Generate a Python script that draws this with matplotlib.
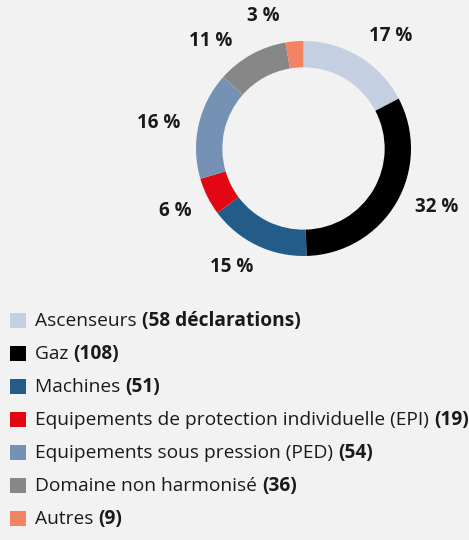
import numpy as np
import matplotlib.pyplot as plt
from matplotlib.patches import Rectangle

plt.rcParams['font.family'] = ['Open Sans', 'DejaVu Sans']

# data
categories = ['Ascenseurs', 'Gaz', 'Machines',
              'Equipements de protection individuelle (EPI)',
              'Equipements sous pression (PED)', 'Domaine non harmonisé', 'Autres']
counts = [58, 108, 51, 19, 54, 36, 9]
count_labels = ['(58 déclarations)', '(108)', '(51)', '(19)', '(54)', '(36)', '(9)']
colors = ['#c5cfe2', '#000000', '#235c89', '#e30613', '#7592b5', '#878787', '#f28364']

# small manual nudges of the percent labels (pixels, right / up)
label_nudge = [(13, -10), (10, 14), (-10, 10), (0, 2), (-5, -6), (-23, -18), (-28, -10)]

bg = '#f2f2f2'
W, H = 469, 540
fig = plt.figure(figsize=(W / 100, H / 100), dpi=100, facecolor=bg)

# donut
cx, cy, R = 303.5, 148.5, 107.5
ax = fig.add_axes([(cx - R) / W, (H - cy - R) / H, 2 * R / W, 2 * R / H])
ax.set_facecolor(bg)
wedges, _ = ax.pie(counts, colors=colors, startangle=90, counterclock=False,
                   radius=1, wedgeprops=dict(width=0.245, linewidth=0))
ax.set_xlim(-1, 1)
ax.set_ylim(-1, 1)
ax.set_aspect('equal')
ax.axis('off')

total = sum(counts)
for w, c, (nx, ny) in zip(wedges, counts, label_nudge):
    mid = np.deg2rad((w.theta1 + w.theta2) / 2)
    r = 1.33
    ax.annotate('%.0f %%' % (100 * c / total), xy=(r * np.cos(mid), r * np.sin(mid)),
                xytext=(nx * 0.72, ny * 0.72), textcoords='offset points',
                ha='center', va='center', fontsize=13.5, fontweight='bold',
                color='#1a1a1a', annotation_clip=False)

# legend drawn on a pixel canvas
lax = fig.add_axes([0, 0, 1, 1], zorder=-1)
lax.set_xlim(0, W)
lax.set_ylim(H, 0)
lax.axis('off')
lax.patch.set_alpha(0)
y0, dy = 320, 33
for i, (cat, cl, col) in enumerate(zip(categories, count_labels, colors)):
    y = y0 + i * dy
    lax.add_patch(Rectangle((10, y - 7.5), 16, 15, facecolor=col, edgecolor='none'))
    t = lax.text(35, y + 1, cat + ' ', ha='left', va='center', fontsize=13.8, color='#1a1a1a')
    lax.annotate(cl, xy=(1, 0.5), xycoords=t, ha='left', va='center',
                 fontsize=13.8, fontweight='bold', color='#1a1a1a')

fig.savefig('out.png', dpi=100, facecolor=bg)
